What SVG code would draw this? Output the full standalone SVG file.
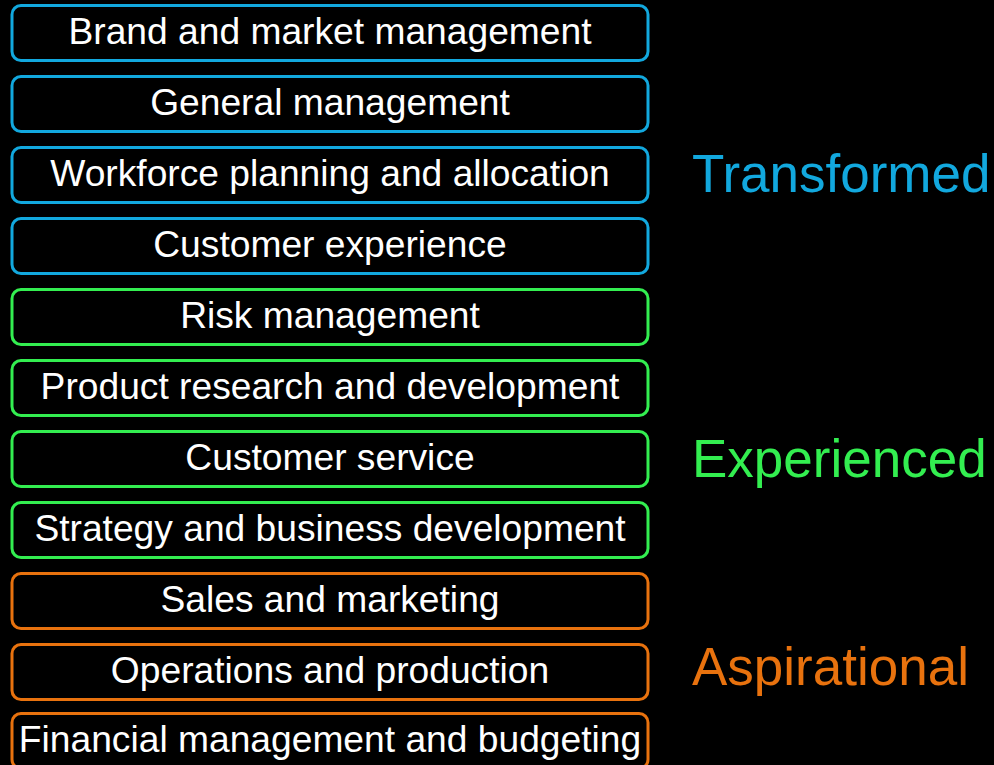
<svg xmlns="http://www.w3.org/2000/svg" width="994" height="765" viewBox="0 0 994 765">
  <style>
    .box { fill: #000; stroke-width: 3; }
    .t { fill: #fff; font-family: "Liberation Sans", Arial, sans-serif; font-size: 37.2px; text-anchor: middle; }
    .lbl { font-family: "Liberation Sans", Arial, sans-serif; font-size: 53px; }
    .blue { stroke: #12A8DE; }
    .green { stroke: #33EE50; }
    .orange { stroke: #E8720E; }
  </style>
  <rect width="994" height="765" fill="#000"/>
  <g id="n1"><rect class="box blue" x="12" y="5.5" width="636" height="55" rx="9"/><text class="t" x="330" y="44">Brand and market management</text></g>
  <g id="n2"><rect class="box blue" x="12" y="76.5" width="636" height="55" rx="9"/><text class="t" x="330" y="115">General management</text></g>
  <g id="n3"><rect class="box blue" x="12" y="147.5" width="636" height="55" rx="9"/><text class="t" x="330" y="186">Workforce planning and allocation</text></g>
  <g id="n4"><rect class="box blue" x="12" y="218.5" width="636" height="55" rx="9"/><text class="t" x="330" y="257">Customer experience</text></g>
  <g id="n5"><rect class="box green" x="12" y="289.5" width="636" height="55" rx="9"/><text class="t" x="330" y="328">Risk management</text></g>
  <g id="n6"><rect class="box green" x="12" y="360.5" width="636" height="55" rx="9"/><text class="t" x="330" y="399">Product research and development</text></g>
  <g id="n7"><rect class="box green" x="12" y="431.5" width="636" height="55" rx="9"/><text class="t" x="330" y="470">Customer service</text></g>
  <g id="n8"><rect class="box green" x="12" y="502.5" width="636" height="55" rx="9"/><text class="t" x="330" y="541">Strategy and business development</text></g>
  <g id="n9"><rect class="box orange" x="12" y="573.5" width="636" height="55" rx="9"/><text class="t" x="330" y="612">Sales and marketing</text></g>
  <g id="n10"><rect class="box orange" x="12" y="644.5" width="636" height="55" rx="9"/><text class="t" x="330" y="683">Operations and production</text></g>
  <g id="n11"><rect class="box orange" x="12" y="713.5" width="636" height="55" rx="9"/><text class="t" x="330" y="752">Financial management and budgeting</text></g>
  <g id="labels">
    <text class="lbl" x="692" y="192" fill="#12A8DE">Transformed</text>
    <text class="lbl" x="692" y="477" fill="#33EE50">Experienced</text>
    <text class="lbl" x="692" y="685" fill="#E8720E">Aspirational</text>
  </g>
  <g id="connectors"/>
</svg>
